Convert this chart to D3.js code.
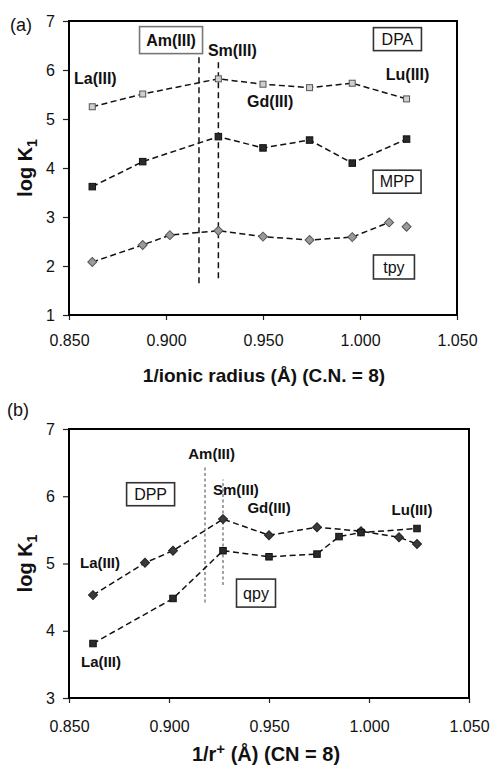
<!DOCTYPE html>
<html>
<head>
<meta charset="utf-8">
<script src="https://cdn.jsdelivr.net/npm/d3@7"></script>
<style>
  body { margin: 0; background: #fff; }
  text { font-family: "Liberation Sans", Arial, sans-serif; }
</style>
</head>
<body>
<svg id="chart"></svg>
<script>
// Panel (a): 1/ionic radius vs log K1
const xA = [0.862, 0.888, 0.927, 0.950, 0.974, 0.996, 1.024];
const dpaVals = [5.25, 5.51, 5.82, 5.71, 5.64, 5.73, 5.41];
const mppVals = [3.62, 4.13, 4.64, 4.41, 4.57, 4.10, 4.59];
const xTpy = [0.862, 0.888, 0.902, 0.927, 0.950, 0.974, 0.996, 1.015, 1.024];
const tpyVals = [2.08, 2.43, 2.63, 2.72, 2.60, 2.53, 2.59, 2.89, 2.80];

// Panel (b)
const xDpp = [0.862, 0.888, 0.902, 0.927, 0.950, 0.974, 0.996, 1.015, 1.024];
const dppVals = [4.53, 5.01, 5.19, 5.66, 5.42, 5.54, 5.48, 5.39, 5.29];
const xQpy = [0.862, 0.902, 0.927, 0.950, 0.974, 0.985, 0.996, 1.024];
const qpyVals = [3.81, 4.48, 5.19, 5.10, 5.14, 5.40, 5.46, 5.52];

// vertical marker lines for Am(III) and Sm(III): [x, yLow, yHigh]
const vLinesA = [[0.917, 1.65, 6.35], [0.927, 1.75, 6.17]];
const vLinesB = [[0.918, 4.42, 6.46], [0.927, 4.68, 6.25]];

const xTicks = [0.85, 0.90, 0.95, 1.00, 1.05];
const yTicksA = [1, 2, 3, 4, 5, 6, 7];
const yTicksB = [3, 4, 5, 6, 7];

const svg = d3.select('#chart')
    .attr('width', 495)
    .attr('height', 769);

// panel frames
const panelA = { left: 69, top: 21, width: 388, height: 294, xPad: 15 };
const panelB = { left: 69, top: 429, width: 400, height: 269, xPad: 18 };

function drawPanel(p, yDomain, yTicks) {
    const g = svg.append('g').attr('transform', `translate(${p.left},${p.top})`);
    const x = d3.scaleLinear().domain([0.85, 1.05]).range([0, p.width]);
    const y = d3.scaleLinear().domain(yDomain).range([p.height, 0]);

    const yAxis = g.append('g')
        .call(d3.axisLeft(y).tickValues(yTicks).tickFormat(d3.format('d')).tickSize(6).tickSizeOuter(0).tickPadding(8));
    const xAxis = g.append('g')
        .attr('transform', `translate(0,${p.height})`)
        .call(d3.axisBottom(x).tickValues(xTicks).tickFormat(d3.format('.3f')).tickSize(5).tickSizeOuter(0).tickPadding(p.xPad));
    [yAxis, xAxis].forEach(a => {
        a.select('.domain').remove();
        a.selectAll('.tick line').attr('stroke', '#222').attr('stroke-width', 1.2);
        a.selectAll('.tick text').attr('font-size', 16).attr('fill', '#111')
            .attr('font-family', '"Liberation Sans", Arial, sans-serif');
    });

    // box
    g.append('rect')
        .attr('width', p.width).attr('height', p.height)
        .attr('fill', 'none').attr('stroke', '#000').attr('stroke-width', 2);

    return { g, x, y };
}

function dashedLine(P, xs, ys, n) {
    const line = d3.line().x((d, i) => P.x(xs[i])).y(d => P.y(d));
    P.g.append('path')
        .datum(ys.slice(0, n || ys.length))
        .attr('d', line)
        .attr('fill', 'none')
        .attr('stroke', '#111')
        .attr('stroke-width', 1.5)
        .attr('stroke-dasharray', '6,3.5');
}

function squares(P, xs, ys, size, fill, stroke) {
    P.g.selectAll(null).data(ys).enter().append('rect')
        .attr('x', (d, i) => P.x(xs[i]) - size / 2)
        .attr('y', d => P.y(d) - size / 2)
        .attr('width', size).attr('height', size)
        .attr('fill', fill).attr('stroke', stroke).attr('stroke-width', 1);
}

function diamonds(P, xs, ys, size, fill, stroke) {
    const sym = d3.symbol().type(d3.symbolSquare).size(size * size / 2);
    P.g.selectAll(null).data(ys).enter().append('path')
        .attr('d', sym)
        .attr('transform', (d, i) => `translate(${P.x(xs[i])},${P.y(d)}) rotate(45)`)
        .attr('fill', fill).attr('stroke', stroke).attr('stroke-width', 1);
}

function vLines(P, lines, dash, color, w) {
    P.g.selectAll(null).data(lines).enter().append('line')
        .attr('x1', d => P.x(d[0])).attr('x2', d => P.x(d[0]))
        .attr('y1', d => P.y(d[1])).attr('y2', d => P.y(d[2]))
        .attr('stroke', color).attr('stroke-width', w).attr('stroke-dasharray', dash);
}

function label(P, xv, yv, txt, size, anchor) {
    P.g.append('text')
        .attr('x', P.x(xv)).attr('y', P.y(yv))
        .attr('dy', '0.35em')
        .attr('text-anchor', anchor || 'start')
        .attr('font-size', size).attr('font-weight', 'bold')
        .attr('fill', '#111')
        .text(txt);
}

function boxLabel(P, xv, yv, w, h, txt, size, bold, stroke) {
    const cx = P.x(xv), cy = P.y(yv);
    P.g.append('rect')
        .attr('x', cx - w / 2).attr('y', cy - h / 2)
        .attr('width', w).attr('height', h)
        .attr('fill', '#fff').attr('stroke', stroke).attr('stroke-width', 1.6);
    P.g.append('text')
        .attr('x', cx).attr('y', cy).attr('dy', '0.36em')
        .attr('text-anchor', 'middle')
        .attr('font-size', size).attr('font-weight', bold ? 'bold' : 'normal')
        .attr('fill', '#111')
        .text(txt);
}

function yTitle(p) {
    const t = svg.append('text')
        .attr('transform', `translate(${p.left - 37},${p.top + p.height / 2}) rotate(-90)`)
        .attr('text-anchor', 'middle')
        .attr('font-size', 20).attr('font-weight', 'bold').attr('fill', '#111');
    t.append('tspan').text('log K');
    t.append('tspan').attr('font-size', 14).attr('dy', 5).text('1');
}

// ---------- Panel (a) ----------
const A = drawPanel(panelA, [1, 7], yTicksA);
vLines(A, vLinesA, '6,4', '#111', 1.5);
dashedLine(A, xA, dpaVals);
dashedLine(A, xA, mppVals);
dashedLine(A, xTpy, tpyVals, 8);
squares(A, xA, dpaVals, 6, '#cfcfcf', '#555');
squares(A, xA, mppVals, 6.5, '#2a2a2a', '#111');
diamonds(A, xTpy, tpyVals, 9, '#9a9a9a', '#555');

boxLabel(A, 0.9026, 6.61, 63, 27, 'Am(III)', 16, true, '#777');
label(A, 0.9216, 6.41, 'Sm(III)', 16);
label(A, 0.8526, 5.82, 'La(III)', 16);
label(A, 0.9418, 5.35, 'Gd(III)', 16);
label(A, 1.0133, 5.91, 'Lu(III)', 16);
boxLabel(A, 1.0193, 6.63, 48, 23, 'DPA', 16, false, '#333');
boxLabel(A, 1.0191, 3.72, 48, 23, 'MPP', 16, false, '#333');
boxLabel(A, 1.0175, 1.98, 41, 24, 'tpy', 16, false, '#333');

yTitle(panelA);
svg.append('text')
    .attr('x', 264).attr('y', 382)
    .attr('text-anchor', 'middle')
    .attr('font-size', 19).attr('font-weight', 'bold').attr('fill', '#111')
    .text('1/ionic radius (Å) (C.N. = 8)');
svg.append('text')
    .attr('x', 10).attr('y', 31)
    .attr('font-family', '"Liberation Serif", "Times New Roman", serif')
    .attr('font-size', 18).attr('fill', '#111')
    .text('(a)');

// ---------- Panel (b) ----------
const B = drawPanel(panelB, [3, 7], yTicksB);
vLines(B, vLinesB, '3,2.5', '#666', 1.2);
dashedLine(B, xDpp, dppVals);
dashedLine(B, xQpy, qpyVals);
diamonds(B, xDpp, dppVals, 9, '#3a3a3a', '#222');
squares(B, xQpy, qpyVals, 6.5, '#2a2a2a', '#111');

label(B, 0.9213, 6.63, 'Am(III)', 15, 'middle');
label(B, 0.922, 6.09, 'Sm(III)', 15);
label(B, 0.9392, 5.83, 'Gd(III)', 15);
label(B, 1.0113, 5.80, 'Lu(III)', 15);
label(B, 0.8555, 5.01, 'La(III)', 15);
label(B, 0.856, 3.54, 'La(III)', 15);
boxLabel(B, 0.8908, 6.03, 48, 23, 'DPP', 16, false, '#333');
boxLabel(B, 0.9435, 4.56, 39, 28, 'qpy', 16, false, '#333');

yTitle(panelB);
const xtB = svg.append('text')
    .attr('x', 266).attr('y', 761)
    .attr('text-anchor', 'middle')
    .attr('font-size', 20).attr('font-weight', 'bold').attr('fill', '#111');
xtB.append('tspan').text('1/r');
xtB.append('tspan').attr('font-size', 15).attr('dy', -7).text('+');
xtB.append('tspan').attr('dy', 7).text(' (Å) (CN = 8)');
svg.append('text')
    .attr('x', 7).attr('y', 416)
    .attr('font-family', '"Liberation Serif", "Times New Roman", serif')
    .attr('font-size', 18).attr('fill', '#111')
    .text('(b)');
</script>
</body>
</html>
